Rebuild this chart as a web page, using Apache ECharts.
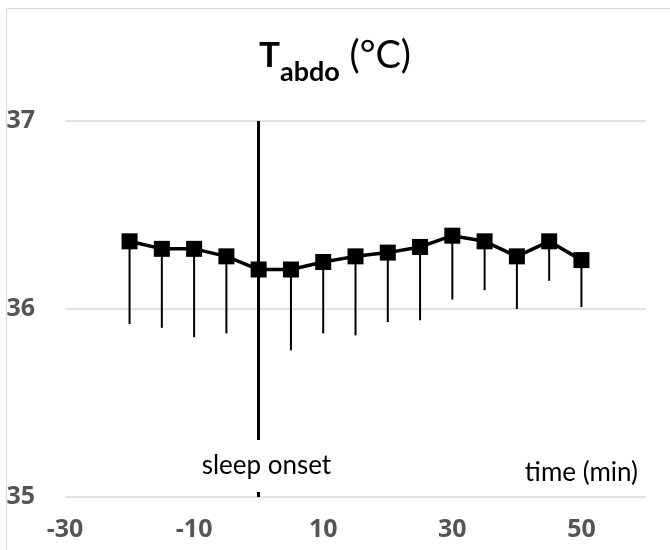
<!DOCTYPE html>
<html><head><meta charset="utf-8">
<script src="https://cdn.jsdelivr.net/npm/echarts@6/dist/echarts.min.js"></script>
<style>html,body{margin:0;padding:0;background:#fff}#c{width:670px;height:550px}</style>
</head><body><div id="c"></div>
<script>
const times = [-20, -15, -10, -5, 0, 5, 10, 15, 20, 25, 30, 35, 40, 45, 50];
const meanTemp = [36.36, 36.32, 36.32, 36.28, 36.21, 36.21, 36.25, 36.28, 36.30, 36.33, 36.39, 36.36, 36.28, 36.36, 36.26];
const lowerErr = [0.44, 0.42, 0.47, 0.41, 0.44, 0.43, 0.38, 0.42, 0.37, 0.39, 0.34, 0.26, 0.28, 0.21, 0.25];
const xTicks = [-30, -10, 10, 30, 50];
const yTicks = [35, 36, 37];
const sleepOnset = 0;

const FONT = 'Lato';
const LABEL_RICH = {b: {fontFamily: 'Open Sans', fontSize: 25, fontWeight: 'bold', color: '#555555', lineHeight: 28}};
const chart = echarts.init(document.getElementById('c'), null, {renderer: 'canvas'});
const lineData = times.map((t, i) => [t, meanTemp[i]]);
const errData = times.map((t, i) => [t, meanTemp[i], meanTemp[i] - lowerErr[i]]);

chart.setOption({
  animation: false,
  backgroundColor: '#fff',
  title: {
    left: 'center', top: 21,
    text: '{T|T}{sub|abdo}{n| (°C)}',
    textStyle: {
      fontWeight: 'normal',
      rich: {
        T: {fontFamily: FONT, fontSize: 35, fontWeight: 'bold', color: '#000', lineHeight: 60, verticalAlign: 'middle'},
        sub: {fontFamily: FONT, fontSize: 27, fontWeight: 'bold', color: '#000', lineHeight: 22, verticalAlign: 'bottom'},
        n: {fontFamily: FONT, fontSize: 38, fontWeight: 'normal', color: '#000', lineHeight: 60, verticalAlign: 'middle'}
      }
    }
  },
  graphic: [
    {type: 'rect', shape: {x: 6.5, y: 8.5, width: 700, height: 600}, style: {fill: 'none', stroke: '#d9d9d9', lineWidth: 1}, z: -1},
    {type: 'text', right: 32, top: 460, style: {text: 'time (min)', font: '26px ' + FONT, fill: '#000'}}
  ],
  grid: {left: 65, right: 24, top: 121, bottom: 53, containLabel: false},
  xAxis: {
    type: 'value', min: -30, max: 60, interval: 20,
    axisLine: {show: false}, axisTick: {show: false}, splitLine: {show: false},
    axisLabel: {
      showMaxLabel: false, margin: 19,
      formatter: v => xTicks.includes(v) ? '{b|' + v + '}' : '',
      rich: LABEL_RICH
    }
  },
  yAxis: {
    type: 'value', min: yTicks[0], max: yTicks[yTicks.length - 1], interval: 1,
    axisLine: {show: false}, axisTick: {show: false},
    splitLine: {show: true, lineStyle: {color: '#d9d9d9', width: 1.5}},
    axisLabel: {margin: 30, formatter: v => '{b|' + v + '}', rich: LABEL_RICH}
  },
  series: [
    {
      type: 'custom', z: 2,
      data: errData,
      renderItem: (params, api) => {
        const top = api.coord([api.value(0), api.value(1)]);
        const bot = api.coord([api.value(0), api.value(2)]);
        return {type: 'line', shape: {x1: top[0], y1: top[1], x2: bot[0], y2: bot[1]}, style: {stroke: '#000', lineWidth: 2}};
      }
    },
    {
      type: 'line', z: 4,
      data: lineData,
      symbol: 'rect', symbolSize: 16,
      itemStyle: {color: '#000'},
      lineStyle: {color: '#000', width: 3.5},
      markLine: {
        silent: true, symbol: 'none', z: 3,
        label: {show: false},
        lineStyle: {color: '#000', width: 3, type: 'solid'},
        data: [{xAxis: sleepOnset}]
      },
      markPoint: {
        silent: true, z: 5,
        symbol: 'rect', symbolSize: 0,
        label: {
          show: true, position: 'inside', formatter: 'sleep onset',
          fontFamily: FONT, fontSize: 26, color: '#000',
          backgroundColor: '#fff', lineHeight: 26, padding: [18, 4, 8, 4]
        },
        data: [{coord: [sleepOnset + 1.2, 35.165]}]
      }
    }
  ]
});
</script></body></html>
